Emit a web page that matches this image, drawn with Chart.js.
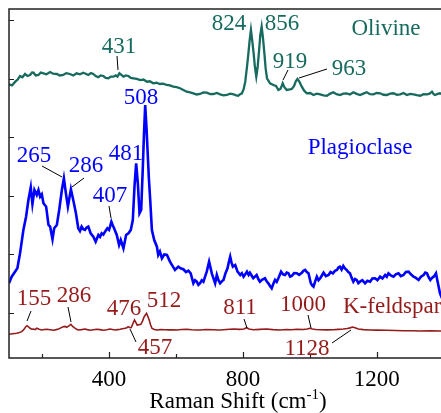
<!DOCTYPE html>
<html>
<head>
<meta charset="utf-8">
<script src="https://cdn.jsdelivr.net/npm/chart.js@4.4.1/dist/chart.umd.min.js"></script>
<style>
  body { margin: 0; background: #fff; overflow: hidden; }
  canvas { display: block; }
</style>
</head>
<body>
<canvas id="ramanChart" width="441" height="413"></canvas>
<script>
// spectra: [Raman shift (cm-1), intensity (a.u., stacked)]
const olivine = [[101,4910],[110,4890],[119,4950],[127,4990],[134,5050],[141,5030],[149,5085],[156,5050],[164,5068],[170,5110],[174,5107],[181,5060],[189,5068],[196,5110],[204,5097],[213,5080],[224,5119],[233,5090],[244,5085],[253,5060],[263,5068],[272,5100],[283,5085],[293,5060],[303,5097],[313,5080],[323,5107],[330,5090],[338,5068],[346,5100],[353,5085],[360,5050],[368,5029],[375,5060],[383,5051],[390,5020],[398,5012],[406,5040],[413,5039],[420,5060],[425,5040],[431,5097],[437,5070],[443,5039],[450,5060],[458,5051],[465,5020],[473,5012],[483,5000],[493,4982],[503,4990],[513,4953],[522,4960],[532,4926],[542,4935],[552,4914],[562,4920],[572,4897],[582,4890],[592,4868],[602,4860],[612,4841],[622,4810],[632,4782],[642,4770],[652,4755],[662,4735],[672,4743],[682,4770],[692,4765],[702,4740],[712,4743],[722,4760],[732,4738],[742,4720],[752,4726],[762,4750],[772,4738],[780,4720],[786,4714],[792,4740],[797,4755],[802,4820],[807,4953],[812,5200],[816,5410],[820,5650],[824,5837],[828,5650],[832,5440],[836,5200],[840,5039],[844,5200],[848,5466],[852,5750],[856,5894],[860,5700],[864,5450],[868,5180],[872,5012],[881,4926],[891,4897],[899,4880],[906,4812],[912,4830],[916,4880],[919,4926],[924,4860],[931,4812],[940,4820],[946,4829],[953,4880],[958,4960],[963,5000],[969,4950],[976,4868],[983,4800],[991,4755],[1001,4760],[1011,4726],[1021,4750],[1031,4738],[1041,4720],[1051,4714],[1060,4745],[1070,4772],[1080,4740],[1090,4726],[1100,4750],[1110,4755],[1120,4735],[1130,4772],[1140,4745],[1150,4726],[1160,4750],[1170,4772],[1180,4740],[1190,4738],[1200,4760],[1210,4755],[1220,4730],[1230,4726],[1240,4750],[1250,4755],[1260,4730],[1270,4738],[1280,4760],[1290,4726],[1300,4745],[1310,4738],[1320,4725],[1330,4714],[1340,4740],[1350,4738],[1358,4750],[1365,4782],[1370,4740],[1374,4726],[1382,4745],[1389,4755],[1395,4740]];

const plagioclase = [[101,1507],[109,1620],[119,1706],[126,1764],[134,2020],[144,2418],[152,2646],[159,2931],[166,3148],[171,2863],[177,3102],[184,3017],[189,3102],[194,2988],[199,3029],[204,2875],[212,2817],[219,2504],[224,2475],[231,2259],[236,2447],[244,2504],[251,2760],[259,3102],[265,3302],[271,3046],[277,2817],[286,3114],[293,2931],[301,2704],[308,2447],[313,2400],[318,2475],[323,2430],[328,2418],[333,2460],[338,2475],[345,2362],[353,2304],[360,2219],[368,2333],[373,2300],[378,2362],[383,2340],[388,2390],[395,2447],[400,2420],[403,2475],[407,2560],[411,2500],[415,2447],[423,2333],[430,2162],[435,2247],[443,2106],[451,2333],[458,2362],[465,2418],[471,2589],[476,3159],[481,3558],[486,3217],[491,2704],[496,2760],[501,3500],[504,4000],[508,4555],[512,4150],[515,3786],[519,3300],[523,2931],[528,2418],[535,2247],[543,2133],[547,1991],[552,2050],[558,1935],[565,2000],[573,1991],[582,1877],[590,1800],[597,1735],[607,1791],[615,1760],[622,1747],[630,1700],[637,1723],[644,1678],[652,1507],[657,1560],[662,1535],[667,1480],[672,1507],[677,1560],[682,1535],[687,1620],[692,1706],[699,1877],[703,1780],[707,1678],[712,1590],[717,1507],[722,1649],[727,1560],[732,1507],[737,1540],[742,1564],[748,1680],[754,1764],[758,1870],[762,1962],[766,1860],[770,1791],[777,1820],[784,1706],[792,1649],[797,1680],[802,1620],[807,1660],[812,1706],[817,1650],[821,1688],[826,1640],[831,1593],[836,1620],[841,1649],[846,1580],[851,1535],[858,1570],[866,1593],[871,1540],[876,1507],[881,1460],[886,1422],[891,1500],[896,1564],[901,1530],[906,1593],[910,1650],[914,1706],[920,1660],[926,1649],[931,1690],[936,1678],[941,1620],[946,1632],[953,1680],[961,1678],[968,1650],[976,1688],[981,1720],[986,1735],[991,1700],[996,1678],[1000,1580],[1003,1507],[1007,1470],[1011,1449],[1016,1540],[1021,1620],[1026,1560],[1031,1593],[1036,1640],[1041,1688],[1048,1630],[1056,1649],[1062,1700],[1069,1678],[1075,1720],[1081,1735],[1086,1780],[1090,1791],[1095,1740],[1100,1803],[1105,1760],[1110,1735],[1115,1700],[1120,1678],[1125,1600],[1130,1535],[1135,1580],[1140,1564],[1145,1510],[1150,1535],[1157,1560],[1165,1507],[1172,1550],[1180,1535],[1187,1590],[1195,1593],[1202,1560],[1210,1620],[1217,1590],[1225,1649],[1230,1620],[1235,1678],[1242,1640],[1250,1620],[1257,1660],[1265,1678],[1272,1630],[1280,1649],[1287,1700],[1295,1706],[1302,1660],[1310,1620],[1317,1600],[1325,1564],[1332,1620],[1340,1649],[1345,1690],[1350,1678],[1355,1610],[1360,1564],[1365,1600],[1370,1620],[1374,1650],[1377,1678],[1381,1560],[1385,1449],[1389,1336],[1395,1250]];

const kfeldspar = [[101,635],[112,645],[124,652],[132,665],[139,680],[146,720],[151,765],[155,782],[160,760],[164,738],[169,722],[174,726],[179,715],[184,738],[191,720],[199,709],[206,718],[214,721],[224,712],[234,704],[242,715],[249,726],[256,745],[263,765],[268,770],[273,755],[279,775],[286,806],[291,770],[296,748],[302,725],[308,709],[318,715],[328,726],[335,715],[343,704],[353,712],[363,721],[373,715],[383,704],[393,712],[403,726],[410,718],[418,709],[426,715],[433,721],[440,730],[448,738],[453,745],[457,765],[462,752],[466,748],[470,800],[476,880],[480,840],[484,794],[490,800],[495,806],[500,860],[505,936],[512,994],[516,940],[520,880],[524,800],[528,738],[535,718],[543,709],[555,715],[567,714],[580,710],[592,712],[602,709],[617,718],[632,721],[647,712],[660,709],[672,709],[690,716],[712,714],[725,708],[732,709],[750,716],[772,726],[790,720],[803,725],[811,748],[818,725],[831,714],[850,720],[871,726],[890,715],[911,709],[930,716],[945,712],[961,721],[980,716],[992,725],[1000,738],[1008,725],[1018,716],[1031,714],[1050,710],[1070,714],[1085,720],[1100,726],[1112,735],[1120,745],[1128,760],[1135,748],[1145,726],[1160,715],[1180,709],[1200,707],[1230,704],[1255,700],[1280,697],[1305,695],[1330,692],[1360,693],[1389,692],[1395,692]];

const mineralNames = ["Olivine", "Plagioclase", "K-feldspar"];
const olivinePeaks = [431, 824, 856, 919, 963];
const plagioclasePeaks = [265, 286, 407, 481, 508];
const kfeldsparPeaks = [155, 286, 457, 476, 512, 811, 1000, 1128];

const shiftTicks = [200, 400, 600, 800, 1000, 1200, 1400];
const intensityTicks = [1000, 2000, 3000, 4000, 5000, 6000];

const colors = ["#176a5e", "#0000ff", "#951b1b"];
const serif = '"Liberation Serif", "Times New Roman", serif';

// where each peak label sits: [text x, text baseline] (px)
const peakLayout = [
  [[119, 53], [229, 30], [282, 30], [290, 68], [349, 75]],
  [[34, 162], [86, 172], [110, 202], [126, 160], [141, 104]],
  [[34, 305], [74, 302], [155, 354], [124, 315], [164, 307], [240, 314], [303, 311], [307, 355]]
];
// leader lines from label to peak: [x1, y1, x2, y2]
const leaders = [
  [[117, 56, 118, 70], null, null, [288, 70, 283, 80], [327, 69, 299, 78]],
  [[42, 166, 62, 177], [84, 178, 72, 187], [109, 206, 111, 218], null, null],
  [[31, 311, 27, 321], [68, 307, 71, 322], [130, 329, 136, 342], null, null, [244, 319, 247, 328], [308, 315, 311, 328], [332, 343, 351, 330]]
];
const namePos = [[386, 35, "center"], [360, 154, "center"], [343, 313, "left"]];

const decor = {
  id: "decor",
  afterDraw(chart) {
    const { ctx, chartArea: a, scales: { x, y } } = chart;
    ctx.save();
    ctx.strokeStyle = "#222";
    ctx.lineWidth = 1.5;
    ctx.beginPath();
    ctx.moveTo(a.right, a.top);
    ctx.lineTo(a.left, a.top);
    ctx.lineTo(a.left, a.bottom);
    ctx.lineTo(a.right, a.bottom);
    ctx.stroke();

    ctx.lineWidth = 1.2;
    ctx.beginPath();
    shiftTicks.forEach(v => {
      const px = Math.round(x.getPixelForValue(v)) + 0.5;
      const len = v % 400 === 0 ? 6 : 4;
      ctx.moveTo(px, a.bottom);
      ctx.lineTo(px, a.bottom - len);
    });
    intensityTicks.forEach(v => {
      const py = Math.round(y.getPixelForValue(v)) + 0.5;
      ctx.moveTo(a.left, py);
      ctx.lineTo(a.left + 5, py);
    });
    ctx.stroke();

    // peak labels
    const peaks = [olivinePeaks, plagioclasePeaks, kfeldsparPeaks];
    ctx.font = "23px " + serif;
    ctx.textBaseline = "alphabetic";
    peaks.forEach((list, s) => {
      ctx.fillStyle = colors[s];
      ctx.textAlign = "center";
      list.forEach((p, i) => {
        const [tx, ty] = peakLayout[s][i];
        ctx.fillText(String(p), tx, ty);
      });
      ctx.strokeStyle = "#000";
      ctx.lineWidth = 1;
      ctx.beginPath();
      leaders[s].forEach(l => {
        if (!l) return;
        ctx.moveTo(l[0], l[1]);
        ctx.lineTo(l[2], l[3]);
      });
      ctx.stroke();
      const [nx, ny, al] = namePos[s];
      ctx.textAlign = al;
      ctx.fillText(mineralNames[s], nx, ny);
    });

    // axis title with superscript
    ctx.fillStyle = "#000";
    ctx.textAlign = "left";
    const main = "Raman Shift (cm";
    ctx.font = "23px " + serif;
    const w1 = ctx.measureText(main).width;
    ctx.font = "15px " + serif;
    const w2 = ctx.measureText("-1").width;
    ctx.font = "23px " + serif;
    const w3 = ctx.measureText(")").width;
    let tx = 238 - (w1 + w2 + w3) / 2;
    ctx.fillText(main, tx, 408);
    tx += w1;
    ctx.font = "15px " + serif;
    ctx.fillText("-1", tx, 399);
    tx += w2;
    ctx.font = "23px " + serif;
    ctx.fillText(")", tx, 408);
    ctx.restore();
  }
};

const series = [olivine, plagioclase, kfeldspar];
const widths = [2.3, 2.6, 1.6];

new Chart(document.getElementById("ramanChart"), {
  type: "scatter",
  data: {
    datasets: series.map((d, i) => ({
      label: mineralNames[i],
      data: d.map(p => ({ x: p[0], y: p[1] })),
      showLine: true,
      borderColor: colors[i],
      borderWidth: widths[i],
      pointRadius: 0,
      tension: 0
    }))
  },
  options: {
    responsive: false,
    devicePixelRatio: 1,
    animation: false,
    layout: { padding: { left: 9, top: 9, right: 0, bottom: 0 } },
    plugins: { legend: { display: false }, tooltip: { enabled: false } },
    scales: {
      x: {
        type: "linear",
        min: 101,
        max: 1392,
        grid: { display: false, drawTicks: false },
        border: { display: false },
        afterFit: s => { s.height = 55; },
        ticks: {
          stepSize: 200,
          includeBounds: false,
          autoSkip: false,
          maxRotation: 0,
          padding: 8,
          color: "#000",
          font: { family: serif, size: 23 },
          callback: v => (v % 400 === 0 ? String(v) : "")
        }
      },
      y: {
        display: false,
        min: 230,
        max: 6196
      }
    }
  },
  plugins: [decor]
});
</script>
</body>
</html>
